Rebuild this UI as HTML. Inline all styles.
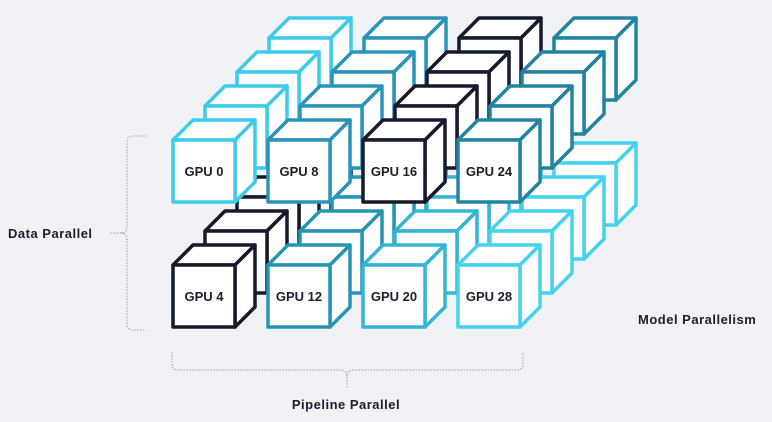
<!DOCTYPE html>
<html><head><meta charset="utf-8"><style>
html,body{margin:0;padding:0;background:#f1f2f6;}
svg{display:block;}
text{font-family:"Liberation Sans",sans-serif;font-weight:bold;fill:#1b1e2c;}
</style></head><body>
<svg width="772" height="422" viewBox="0 0 772 422" xmlns="http://www.w3.org/2000/svg">
<defs>
<g id="cube" fill="#fff" stroke="currentColor" stroke-width="3.5" stroke-linejoin="round">
<polygon points="0,0 20,-20 82,-20 62,0"/>
<polygon points="62,0 82,-20 82,42 62,62"/>
<rect x="0" y="0" width="62" height="62"/>
</g>
</defs>
<rect width="772" height="422" fill="#f1f2f6"/>
<!-- layer 3 -->
<g>
<use href="#cube" x="269" y="38" style="color:#3ccbea"/>
<use href="#cube" x="364" y="38" style="color:#2a93b8"/>
<use href="#cube" x="459" y="38" style="color:#161a2c"/>
<use href="#cube" x="554" y="38" style="color:#2384a2"/>
<use href="#cube" x="269" y="163" style="color:#161a2c"/>
<use href="#cube" x="364" y="163" style="color:#2794b4"/>
<use href="#cube" x="459" y="163" style="color:#35b5d6"/>
<use href="#cube" x="554" y="163" style="color:#44d2ee"/>
</g>
<!-- layer 2 -->
<g>
<use href="#cube" x="237" y="72" style="color:#3ccbea"/>
<use href="#cube" x="332" y="72" style="color:#2a93b8"/>
<use href="#cube" x="427" y="72" style="color:#161a2c"/>
<use href="#cube" x="522" y="72" style="color:#2384a2"/>
<use href="#cube" x="237" y="197" style="color:#161a2c"/>
<use href="#cube" x="332" y="197" style="color:#2794b4"/>
<use href="#cube" x="427" y="197" style="color:#35b5d6"/>
<use href="#cube" x="522" y="197" style="color:#44d2ee"/>
</g>
<!-- layer 1 -->
<g>
<use href="#cube" x="205" y="106" style="color:#3ccbea"/>
<use href="#cube" x="300" y="106" style="color:#2a93b8"/>
<use href="#cube" x="395" y="106" style="color:#161a2c"/>
<use href="#cube" x="490" y="106" style="color:#2384a2"/>
<use href="#cube" x="205" y="231" style="color:#161a2c"/>
<use href="#cube" x="300" y="231" style="color:#2794b4"/>
<use href="#cube" x="395" y="231" style="color:#35b5d6"/>
<use href="#cube" x="490" y="231" style="color:#44d2ee"/>
</g>
<!-- layer 0 -->
<g>
<use href="#cube" x="173" y="140" style="color:#3ccbea"/>
<use href="#cube" x="268" y="140" style="color:#2a93b8"/>
<use href="#cube" x="363" y="140" style="color:#161a2c"/>
<use href="#cube" x="458" y="140" style="color:#2384a2"/>
<use href="#cube" x="173" y="265" style="color:#161a2c"/>
<use href="#cube" x="268" y="265" style="color:#2794b4"/>
<use href="#cube" x="363" y="265" style="color:#35b5d6"/>
<use href="#cube" x="458" y="265" style="color:#44d2ee"/>
</g>
<g font-size="13" text-anchor="middle">
<text x="204" y="176">GPU 0</text>
<text x="299" y="176">GPU 8</text>
<text x="394" y="176">GPU 16</text>
<text x="489" y="176">GPU 24</text>
<text x="204" y="301">GPU 4</text>
<text x="299" y="301">GPU 12</text>
<text x="394" y="301">GPU 20</text>
<text x="489" y="301">GPU 28</text>
</g>
<g fill="none" stroke="#9a9ca4" stroke-width="1" stroke-dasharray="1.5,1.5">
<path d="M146,136 H133 Q127,136 127,142 V226 Q127,233 121,233 H109 M121,233 Q127,233 127,240 V324 Q127,330 133,330 H146"/>
<path d="M172,352 V364 Q172,370 178,370 H340 Q347,370 347,376 V388 M347,376 Q347,370 354,370 H517 Q523,370 523,364 V352"/>
</g>
<g font-size="13" letter-spacing="0.5">
<text x="8" y="238">Data Parallel</text>
<text x="638" y="324">Model Parallelism</text>
<text x="346" y="409" text-anchor="middle">Pipeline Parallel</text>
</g>
</svg>
</body></html>
